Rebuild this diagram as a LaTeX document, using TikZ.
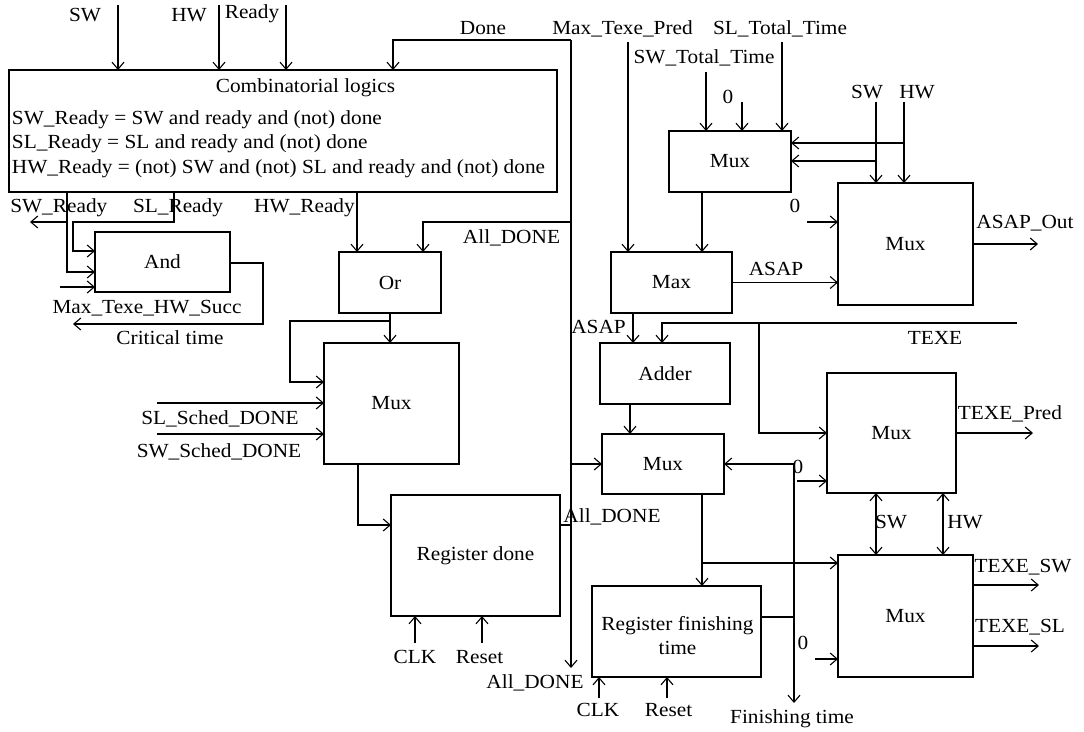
\documentclass[tikz,border=0pt]{standalone}
\usepackage{fontspec}
\setmainfont[FakeStretch=1.065]{Liberation Serif}
\usetikzlibrary{arrows.meta}
\begin{document}
\begin{tikzpicture}[x=1pt,y=-1pt,
  font=\fontsize{20}{24}\selectfont,
  blk/.style={draw, line width=1.1pt, inner sep=0pt, outer sep=0pt},
  txt/.style={anchor=base, inner sep=0pt, outer sep=0pt},
  wire/.style={line width=1.1pt},
  arr/.style={wire, -{Straight Barb[length=7pt,width=12pt]}},
  darr/.style={wire, {Straight Barb[length=7pt,width=12pt]}-{Straight Barb[length=7pt,width=12pt]}},
]
\useasboundingbox (0,0) rectangle (1084,731);

% ---------------- blocks ----------------
\node[blk, minimum width=548pt, minimum height=122pt] (comb)    at (283,131) {};
\node[blk, minimum width=135pt, minimum height=60pt]  (andb)    at (162.5,262) {And};
\node[blk, minimum width=102pt, minimum height=61pt]  (orb)     at (390,282.5) {Or};
\node[blk, minimum width=135pt, minimum height=121pt] (muxl)    at (391.5,403.5) {Mux};
\node[blk, minimum width=169pt, minimum height=121pt] (regdone) at (475.5,555.5) {Register done};
\node[blk, minimum width=122pt, minimum height=61pt]  (muxtop)  at (730,161.5) {Mux};
\node[blk, minimum width=121pt, minimum height=61pt]  (maxb)    at (671.5,282.5) {Max};
\node[blk, minimum width=135pt, minimum height=122pt] (muxasap) at (905.5,244) {Mux};
\node[blk, minimum width=130pt, minimum height=61pt]  (adder)   at (665,373.5) {Adder};
\node[blk, minimum width=122pt, minimum height=60pt]  (muxmid)  at (663,464) {Mux};
\node[blk, minimum width=129pt, minimum height=120pt] (muxpred) at (891.5,433) {Mux};
\node[blk, minimum width=135pt, minimum height=122pt] (muxbot)  at (905.5,616) {Mux};
\node[blk, minimum width=169pt, minimum height=91pt]  (regfin)  at (676.5,631.5) {};

% texts inside the combinational block and the finishing-time register
\node[txt] (combtitle) at (305.5,92) {Combinatorial logics};
\node[txt, anchor=base west] (eqsw) at (12,124) {SW\_Ready = SW and ready and (not) done};
\node[txt, anchor=base west] (eqsl) at (12,148) {SL\_Ready = SL and ready and (not) done};
\node[txt, anchor=base west] (eqhw) at (12,173) {HW\_Ready = (not) SW and (not) SL and ready and (not) done};
\node[txt] (regfin1) at (677.5,630) {Register finishing};
\node[txt] (regfin2) at (677.5,654) {time};

% ---------------- free ends ----------------
\coordinate (swin)    at (118,5);
\coordinate (hwin)    at (219,5);
\coordinate (rdyin)   at (286,5);
\coordinate (dnTop)   at (571,40);
\coordinate (dnBot)   at (571,668);
\coordinate (swrdyOut) at (30,222);
\coordinate (succIn)  at (60,287);
\coordinate (critOut) at (73,324);
\coordinate (slsched) at (157,403);
\coordinate (swsched) at (157,434);
\coordinate (swtot)   at (706,72);
\coordinate (zeroA)   at (742,102);
\coordinate (sltot)   at (782,42);
\coordinate (mtpred)  at (628,42);
\coordinate (swR)     at (876,102);
\coordinate (hwR)     at (904,102);
\coordinate (zeroB)   at (807,222);
\coordinate (asapOut) at (1038,244);
\coordinate (texeIn)  at (1017,323);
\coordinate (zeroC)   at (797,481);
\coordinate (predOut) at (1033,433);
\coordinate (texeSW)  at (1039,585);
\coordinate (texeSL)  at (1039,646);
\coordinate (zeroD)   at (815,659);
\coordinate (fbNode)  at (794,617);
\coordinate (finOut)  at (794,703);
\coordinate (clkA)    at (415,643);
\coordinate (rstA)    at (482,643);
\coordinate (clkB)    at (599,698);
\coordinate (rstB)    at (667,698);

% ---------------- connectors ----------------
% inputs of the combinational logic
\draw[arr] (swin)  -- (swin |- comb.north);
\draw[arr] (hwin)  -- (hwin |- comb.north);
\draw[arr] (rdyin) -- (rdyin |- comb.north);
\draw[arr] (dnTop) -| (393,0 |- comb.north);
% All_DONE bus
\draw[arr] (dnTop) -- (dnBot);
\draw[arr] (571,222) -| (423,0 |- orb.north);
\draw[arr] (571,0 |- muxmid.west) -- (muxmid.west);
\draw[wire] (regdone.east |- 0,525) -- (571,525);

% ready outputs and the And block
\draw[arr] (67,0 |- comb.south) |- (andb.west |- 0,272);
\draw[arr] (67,222) -- (swrdyOut);
\draw[arr] (174,0 |- comb.south) |- (73,222) |- (andb.west |- 0,251);
\draw[arr] (succIn) -- (andb.west |- succIn);
\draw[arr] (andb.east |- 0,263) -| (263,0 |- critOut) -- (critOut);

% Or, left Mux and done register
\draw[arr] (357,0 |- comb.south) -- (357,0 |- orb.north);
\draw[arr] (orb.south) -- (orb.south |- muxl.north);
\draw[arr] (orb.south |- 0,321) -| (290,382) -- (muxl.west |- 0,382);
\draw[arr] (slsched) -- (muxl.west |- slsched);
\draw[arr] (swsched) -- (muxl.west |- swsched);
\draw[arr] (358,0 |- muxl.south) |- (regdone.west |- 0,525);
\draw[arr] (clkA) -- (clkA |- regdone.south);
\draw[arr] (rstA) -- (rstA |- regdone.south);

% top Mux and Max
\draw[arr] (swtot)  -- (swtot |- muxtop.north);
\draw[arr] (zeroA)  -- (zeroA |- muxtop.north);
\draw[arr] (sltot)  -- (sltot |- muxtop.north);
\draw[arr] (mtpred) -- (mtpred |- maxb.north);
\draw[arr] (702,0 |- muxtop.south) -- (702,0 |- maxb.north);
\draw[arr] (swR) -- (swR |- muxasap.north);
\draw[arr] (hwR) -- (hwR |- muxasap.north);
\draw[arr] (904,143) -- (muxtop.east |- 0,143);
\draw[arr] (876,161) -- (muxtop.east |- 0,161);
\draw[arr] (zeroB) -- (muxasap.west |- zeroB);
\draw[arr] (maxb.east) -- (maxb.east -| muxasap.west);
\draw[arr] (muxasap.east) -- (asapOut);

% Adder, TEXE and middle Mux
\draw[arr] (633,0 |- maxb.south) -- (633,0 |- adder.north);
\draw[arr] (texeIn) -| (662,0 |- adder.north);
\draw[arr] (759,0 |- texeIn) |- (muxpred.west);
\draw[arr] (630,0 |- adder.south) -- (630,0 |- muxmid.north);
\draw[arr] (702,0 |- muxmid.south) -- (702,0 |- regfin.north);
\draw[arr] (702,563) -- (muxbot.west |- 0,563);

% finishing time register and feedback
\draw[wire] (regfin.east |- fbNode) -- (fbNode);
\draw[arr] (fbNode) |- (muxmid.east);
\draw[arr] (fbNode) -- (finOut);
\draw[arr] (clkB) -- (clkB |- regfin.south);
\draw[arr] (rstB) -- (rstB |- regfin.south);

% right-hand Muxes
\draw[arr] (muxpred.east) -- (predOut);
\draw[arr] (zeroC) -- (muxpred.west |- zeroC);
\draw[darr] (876,0 |- muxpred.south) -- (876,0 |- muxbot.north);
\draw[darr] (943,0 |- muxpred.south) -- (943,0 |- muxbot.north);
\draw[arr] (muxbot.east |- texeSW) -- (texeSW);
\draw[arr] (muxbot.east |- texeSL) -- (texeSL);
\draw[arr] (zeroD) -- (muxbot.west |- zeroD);

% ---------------- signal labels ----------------
\node[txt] (lsw)    at (85,21)  {SW};
\node[txt] (lhw)    at (189,21) {HW};
\node[txt] (lrdy)   at (252,18) {Ready};
\node[txt] (ldone)  at (483,34) {Done};
\node[txt] (lmtp)   at (622.5,34) {Max\_Texe\_Pred};
\node[txt] (lslt)   at (780,34) {SL\_Total\_Time};
\node[txt] (lswt)   at (704,63) {SW\_Total\_Time};
\node[txt] (lz1)    at (728,103) {0};
\node[txt] (lswr)   at (867,98) {SW};
\node[txt] (lhwr)   at (917,98) {HW};
\node[txt] (lz2)    at (795,212) {0};
\node[txt] (lasapo) at (1025,228) {ASAP\_Out};
\node[txt] (lasap1) at (776,275) {ASAP};
\node[txt] (lasap2) at (598.5,333) {ASAP};
\node[txt] (ltexe)  at (935,344) {TEXE};
\node[txt] (ltpred) at (1010,419) {TEXE\_Pred};
\node[txt] (lz3)    at (798,473) {0};
\node[txt] (lsw2)   at (891,528) {SW};
\node[txt] (lhw2)   at (965,528) {HW};
\node[txt] (ltsw)   at (1023,572) {TEXE\_SW};
\node[txt] (ltsl)   at (1020,632) {TEXE\_SL};
\node[txt] (lz4)    at (803,649) {0};
\node[txt] (lfin)   at (792,723) {Finishing time};
\node[txt] (lclk1)  at (415,663) {CLK};
\node[txt] (lrst1)  at (479.5,663) {Reset};
\node[txt] (lad3)   at (535,688) {All\_DONE};
\node[txt] (lclk2)  at (598,716) {CLK};
\node[txt] (lrst2)  at (668.5,716) {Reset};
\node[txt] (lad2)   at (612,522) {All\_DONE};
\node[txt] (lad1)   at (511.5,243) {All\_DONE};
\node[txt] (lslsd)  at (220,424) {SL\_Sched\_DONE};
\node[txt] (lswsd)  at (219,457) {SW\_Sched\_DONE};
\node[txt] (lcrit)  at (170,344) {Critical time};
\node[txt] (lsucc)  at (147,313) {Max\_Texe\_HW\_Succ};
\node[txt] (lswrdy) at (58.8,212) {SW\_Ready};
\node[txt] (lslrdy) at (178,212) {SL\_Ready};
\node[txt] (lhwrdy) at (304.5,212) {HW\_Ready};
\end{tikzpicture}
\end{document}
